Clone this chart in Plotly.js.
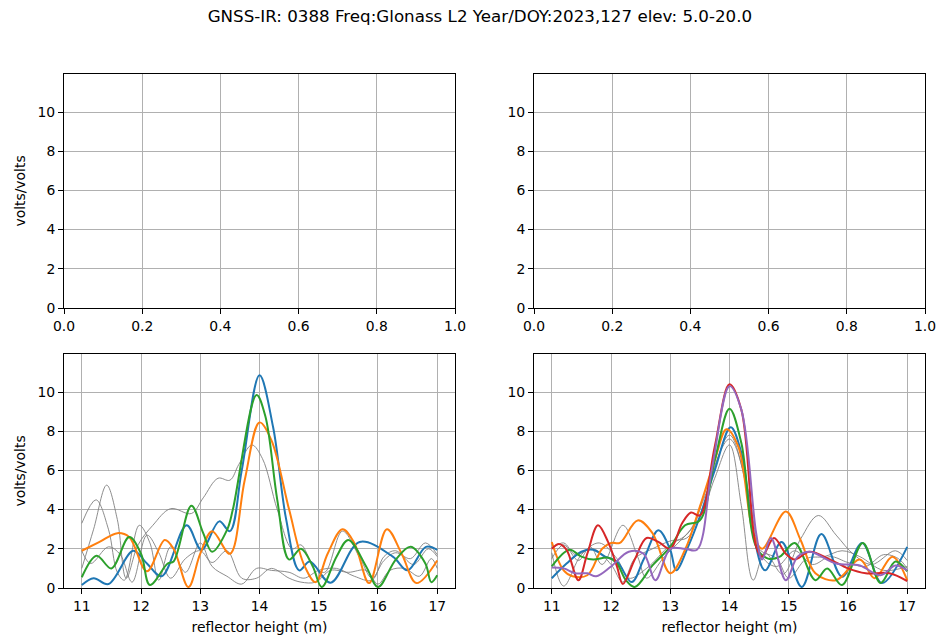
<!DOCTYPE html>
<html>
<head>
<meta charset="utf-8">
<script src="https://cdn.plot.ly/plotly-3.0.1.min.js"></script>
<style>html,body{margin:0;padding:0;background:#fff}#chart{width:941px;height:639px}</style>
</head>
<body>
<div id="chart"></div>
<script>
// ---------- Bottom-left panel ----------
const blBlueX = [11.0,11.2,11.45,11.87,12.1,12.35,12.77,13.02,13.32,13.5,13.7,14.0,14.23,14.45,14.67,14.85,15.2,15.69,16.25,16.5,16.81,17.0];
const blBlueY = [0.15,0.5,0.2,1.9,1.25,0.6,3.2,1.95,3.4,2.9,6.0,10.85,8.2,3.5,0.9,1.35,0.27,2.35,1.6,0.9,2.1,1.95];
const blOrangeX = [11.0,11.3,11.6,11.8,12.1,12.4,12.55,12.8,13.0,13.2,13.5,13.75,14.0,14.2,14.5,14.75,14.95,15.15,15.4,15.6,15.85,16.15,16.4,16.65,17.0];
const blOrangeY = [1.9,2.35,2.8,2.6,0.85,2.45,2.0,0.05,1.75,2.9,1.75,5.5,8.45,7.55,4.0,1.2,0.3,1.75,3.0,2.3,0.25,3.0,1.75,0.25,1.4];
const blGreenX = [11.0,11.25,11.5,11.8,12.0,12.15,12.45,12.55,12.85,13.05,13.2,13.45,13.55,13.95,14.1,14.3,14.5,14.7,14.9,15.05,15.3,15.5,15.8,16.0,16.3,16.55,16.8,16.9,17.0];
const blGreenY = [0.55,1.65,1.0,2.6,1.75,0.15,1.25,1.35,4.2,2.8,1.85,2.95,4.0,9.85,8.75,4.5,1.45,2.0,1.1,0.05,1.6,2.45,1.1,0.05,1.45,2.1,1.25,0.3,0.65];
const blGray1X = [11.0,11.2,11.42,11.6,11.75,11.95,12.2,12.5,12.85,13.05,13.3,13.5,13.65,13.87,14.05,14.3,14.55,14.7,14.9,15.1,15.4,15.7,15.9,16.1,16.3,16.55,16.8,17.0];
const blGray1Y = [1.0,3.0,5.25,3.5,0.5,2.2,3.2,4.05,3.8,4.6,5.6,5.5,6.3,7.3,6.6,4.0,2.0,2.2,1.2,0.8,2.9,1.5,0.5,1.4,1.8,1.5,2.3,1.7];
const blGray2X = [11.0,11.24,11.45,11.6,11.72,11.97,12.15,12.3,12.5,12.75,13.0,13.2,13.45,13.7,13.95,14.2,14.5,14.75,15.0,15.3,15.6,15.9,16.1,16.3,16.6,16.85,17.0];
const blGray2Y = [3.3,4.5,3.0,0.8,0.4,3.2,2.3,0.4,2.1,0.8,2.3,1.1,0.6,0.2,1.0,0.9,0.8,0.5,0.9,1.0,0.6,0.4,1.6,1.9,1.2,2.0,1.6];
const blGray3X = [11.0,11.15,11.45,11.65,11.85,12.1,12.3,12.5,12.75,13.0,13.2,13.45,13.7,13.95,14.2,14.5,14.7,14.95,15.2,15.5,15.8,16.0,16.2,16.45,16.7,16.9,17.0];
const blGray3Y = [1.9,1.25,2.1,1.7,0.3,2.7,1.8,0.5,1.5,1.9,1.3,1.9,0.5,0.5,1.0,0.5,0.3,0.3,0.9,0.8,0.9,0.2,0.9,1.0,0.6,1.5,1.0];

// ---------- Bottom-right panel ----------
const brBlueX = [11.0,11.25,11.5,11.7,11.9,12.1,12.35,12.55,12.8,13.0,13.1,13.3,13.5,13.75,14.02,14.2,14.4,14.6,14.88,15.22,15.55,15.9,16.24,16.57,17.0];
const brBlueY = [0.5,1.25,1.85,1.95,1.6,1.35,0.3,1.45,2.95,1.95,0.9,2.1,3.65,6.0,8.2,6.9,2.8,0.9,2.35,0.05,2.75,0.58,2.3,0.25,2.1];
const brOrangeX = [11.0,11.2,11.35,11.6,11.85,12.0,12.15,12.45,12.7,13.0,13.25,13.5,13.75,13.95,14.15,14.4,14.55,14.95,15.2,15.45,15.8,16.2,16.45,16.75,17.0];
const brOrangeY = [2.35,0.9,0.6,0.65,2.0,2.3,2.3,3.45,2.8,0.75,1.95,4.15,6.5,8.1,7.2,2.8,2.0,3.9,2.45,0.75,0.4,1.45,0.5,1.6,0.4];
const brGreenX = [11.0,11.3,11.5,11.7,11.95,12.1,12.25,12.4,12.7,13.0,13.25,13.5,13.75,14.0,14.2,14.45,14.65,14.85,15.1,15.45,15.65,15.9,16.25,16.55,16.8,17.0];
const brGreenY = [1.1,1.95,1.6,1.45,1.55,1.25,0.4,0.05,1.15,2.1,3.2,3.45,6.5,9.15,7.4,2.1,1.5,1.6,2.3,0.4,1.0,0.15,2.3,0.25,1.35,0.85];
const brRedX = [11.0,11.12,11.25,11.45,11.6,11.78,11.95,12.1,12.2,12.4,12.6,12.8,13.0,13.2,13.35,13.5,13.75,14.0,14.2,14.45,14.55,14.75,14.95,15.1,15.35,15.7,16.0,16.3,16.7,17.0];
const brRedY = [2.0,2.25,1.95,0.4,1.75,3.2,2.35,1.1,0.2,1.45,2.55,2.35,2.0,3.3,3.85,3.7,7.2,10.4,9.1,2.1,1.6,2.55,1.75,1.45,1.85,1.45,1.0,0.75,0.75,0.35];
const brPurpleX = [11.0,11.2,11.4,11.6,11.75,12.0,12.3,12.55,12.75,13.0,13.25,13.45,13.7,14.0,14.2,14.45,14.55,14.7,14.95,15.15,15.35,15.8,16.2,16.55,16.8,17.0];
const brPurpleY = [1.05,1.0,0.75,0.75,0.6,1.1,1.85,1.75,0.4,2.0,2.0,1.95,6.0,10.3,9.1,2.8,1.45,2.55,0.4,1.6,1.85,1.25,1.15,0.65,1.15,0.9];
const brGray1X = [11.0,11.2,11.45,11.65,11.85,12.2,12.45,12.6,12.9,13.2,13.5,13.75,14.0,14.2,14.4,14.6,14.9,15.2,15.5,15.8,16.1,16.4,16.8,17.0];
const brGray1Y = [1.5,2.2,1.4,2.1,1.2,3.2,1.6,0.5,1.6,2.5,3.6,5.6,7.3,4.2,0.4,1.8,0.7,2.5,3.7,2.7,1.7,1.2,1.9,1.4];
const brGray2X = [11.0,11.2,11.5,11.8,12.1,12.3,12.6,13.0,13.3,13.6,14.0,14.3,14.5,14.8,15.0,15.3,15.6,15.9,16.2,16.6,17.0];
const brGray2Y = [1.8,0.1,1.7,2.3,1.5,0.5,1.0,2.2,2.8,4.8,7.8,5.0,2.0,1.5,0.5,1.5,1.6,1.9,1.6,0.9,1.1];
const brGray3X = [11.0,11.2,11.4,11.7,12.0,12.2,12.4,12.7,13.0,13.3,13.6,14.0,14.3,14.55,14.8,15.1,15.4,15.7,16.0,16.3,16.6,16.85,17.0];
const brGray3Y = [2.0,2.3,1.7,2.0,1.2,0.3,1.5,2.0,2.4,2.6,5.0,7.6,5.2,1.6,1.1,1.9,1.2,1.6,1.3,1.1,1.7,1.5,1.0];

// ---------- Text ----------
const titleText = "GNSS-IR: 0388 Freq:Glonass L2 Year/DOY:2023,127 elev: 5.0-20.0";
const yLabel = "volts/volts";
const xLabel = "reflector height (m)";
const topTicks = [0,0.2,0.4,0.6,0.8,1.0];
const bottomTicks = [11,12,13,14,15,16,17];
const yTicks = [0,2,4,6,8,10];

const C = {blue:'#1f77b4', orange:'#ff7f0e', green:'#2ca02c', red:'#d62728', purple:'#9467bd', gray:'#808080'};

function line(x, y, color, width, xa, ya){
  return {x:x, y:y, type:'scatter', mode:'lines', xaxis:xa, yaxis:ya,
    line:{color:color, width:width, shape:'spline', smoothing:1}, hoverinfo:'skip', showlegend:false};
}

const data = [
  {x:[], y:[], type:'scatter', mode:'lines', xaxis:'x', yaxis:'y', showlegend:false},
  {x:[], y:[], type:'scatter', mode:'lines', xaxis:'x2', yaxis:'y2', showlegend:false},
  line(blGray1X, blGray1Y, C.gray, 0.9, 'x3','y3'),
  line(blGray2X, blGray2Y, C.gray, 0.9, 'x3','y3'),
  line(blGray3X, blGray3Y, C.gray, 0.9, 'x3','y3'),
  line(blBlueX, blBlueY, C.blue, 2, 'x3','y3'),
  line(blOrangeX, blOrangeY, C.orange, 2, 'x3','y3'),
  line(blGreenX, blGreenY, C.green, 2, 'x3','y3'),
  line(brGray1X, brGray1Y, C.gray, 0.9, 'x4','y4'),
  line(brGray2X, brGray2Y, C.gray, 0.9, 'x4','y4'),
  line(brGray3X, brGray3Y, C.gray, 0.9, 'x4','y4'),
  line(brBlueX, brBlueY, C.blue, 2, 'x4','y4'),
  line(brOrangeX, brOrangeY, C.orange, 2, 'x4','y4'),
  line(brGreenX, brGreenY, C.green, 2, 'x4','y4'),
  line(brRedX, brRedY, C.red, 2, 'x4','y4'),
  line(brPurpleX, brPurpleY, C.purple, 2, 'x4','y4')
];

const font = {family:'DejaVu Sans, sans-serif', size:13.9, color:'#000'};
const L = [64/941, 455/941], R = [534/941, 925/941];
const T = [1-308/639, 1-74/639], B = [1-588/639, 1-354/639];

function xax(domain, anchor, range, ticks, fmt, title){
  const a = {domain:domain, anchor:anchor, range:range, tickmode:'array', tickvals:ticks,
    ticktext: ticks.map(v => fmt ? v.toFixed(1) : String(v)),
    showgrid:true, gridcolor:'#b0b0b0', gridwidth:1, zeroline:false,
    showline:true, mirror:true, linecolor:'#000', linewidth:1,
    ticks:'outside', ticklen:5, tickwidth:1, tickcolor:'#000', tickfont:font, fixedrange:true};
  if (title) a.title = {text:title, font:font, standoff:9};
  return a;
}
function yax(domain, anchor, title){
  const a = {domain:domain, anchor:anchor, range:[0,11.94], tickmode:'array', tickvals:yTicks,
    showgrid:true, gridcolor:'#b0b0b0', gridwidth:1, zeroline:false,
    showline:true, mirror:true, linecolor:'#000', linewidth:1,
    ticks:'outside', ticklen:5, tickwidth:1, tickcolor:'#000', tickfont:font, fixedrange:true};
  if (title) a.title = {text:title, font:font, standoff:8};
  return a;
}

const layout = {
  width:941, height:639,
  margin:{l:0, r:0, t:0, b:0},
  paper_bgcolor:'#fff', plot_bgcolor:'#fff',
  title:{text:titleText, font:{family:'DejaVu Sans, sans-serif', size:16.7, color:'#000'}, x:0.51, xanchor:'center', y:1-16/639, yanchor:'middle'},
  showlegend:false,
  xaxis: xax(L, 'y', [0,1], topTicks, true),
  yaxis: yax(T, 'x', yLabel),
  xaxis2: xax(R, 'y2', [0,1], topTicks, true),
  yaxis2: yax(T, 'x2'),
  xaxis3: xax(L, 'y3', [10.7,17.3], bottomTicks, false, xLabel),
  yaxis3: yax(B, 'x3', yLabel),
  xaxis4: xax(R, 'y4', [10.7,17.3], bottomTicks, false, xLabel),
  yaxis4: yax(B, 'x4')
};

Plotly.newPlot('chart', data, layout, {displayModeBar:false, staticPlot:true});
</script>
</body>
</html>
